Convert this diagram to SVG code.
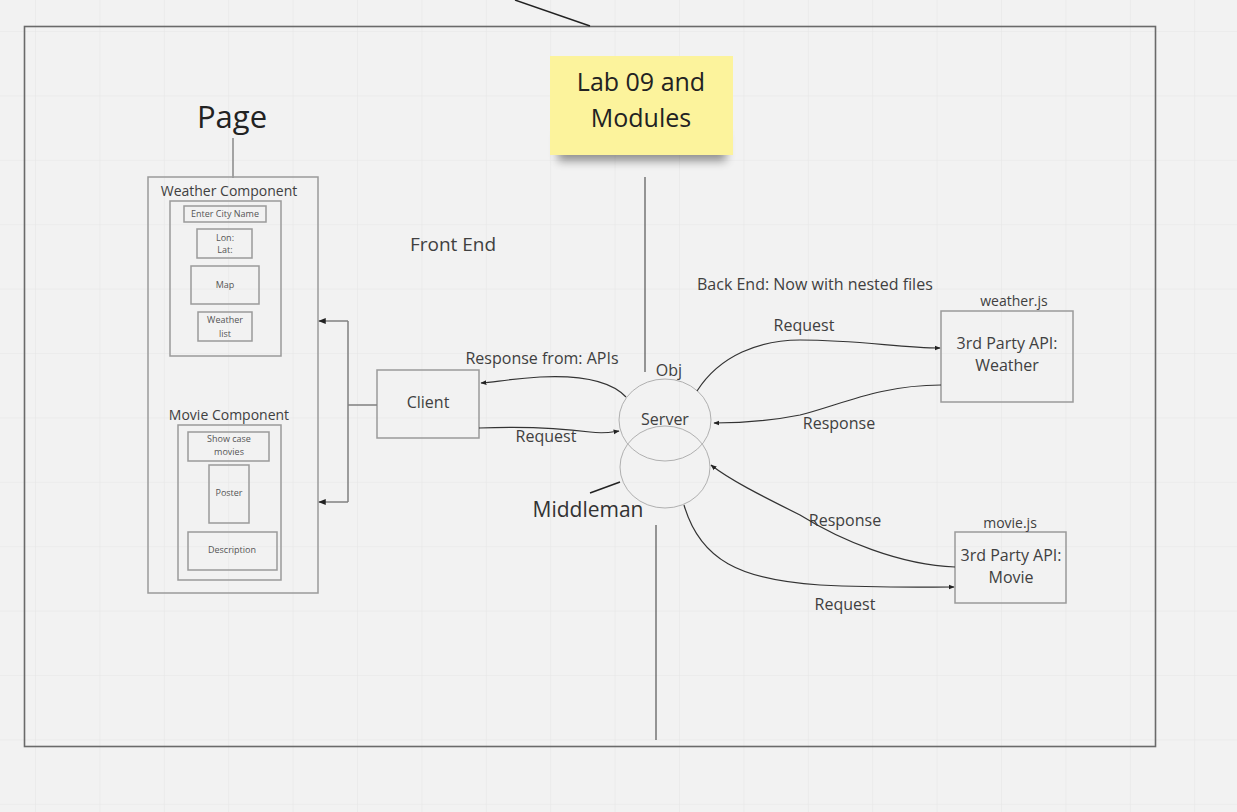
<svg xmlns="http://www.w3.org/2000/svg" width="1237" height="812" viewBox="0 0 1237 812">
<style>
text{font-family:"Open Sans","Noto Sans","Liberation Sans",sans-serif;fill:#404040}
.box{fill:none;stroke:#9a9a9a;stroke-width:1.5}
.sm{font-size:9px;text-anchor:middle;fill:#555}
.md{font-size:16px;text-anchor:middle}
.conn{fill:none;stroke:#333;stroke-width:1.2}
.ell{fill:none;stroke:#b0b0b0;stroke-width:1}
</style>
<defs>
<pattern id="grid" patternUnits="userSpaceOnUse" x="35" y="31" width="64.4" height="64.4">
<path d="M0,0 H64.4 M0,0 V64.4" fill="none" stroke="#e6e6e6" stroke-width="1.2"/>
</pattern>
<marker id="arr" viewBox="0 0 10 10" refX="9" refY="5" markerWidth="5" markerHeight="5" orient="auto-start-reverse">
<path d="M0,1 L10,5 L0,9 z" fill="#222"/>
</marker>
<filter id="sh" x="-20%" y="-20%" width="140%" height="160%">
<feGaussianBlur stdDeviation="5"/>
</filter>
</defs>
<rect width="1237" height="812" fill="#f2f2f2"/>
<rect width="1237" height="812" fill="url(#grid)"/>

<g id="frame">
<rect x="24.5" y="26.5" width="1131" height="720" fill="none" stroke="#6a6a6a" stroke-width="1.6"/>
<line x1="515" y1="0" x2="590" y2="26" stroke="#222" stroke-width="1.4"/>
<line x1="645" y1="177" x2="645" y2="372" stroke="#555" stroke-width="1.2"/>
<line x1="656" y1="525" x2="656" y2="740" stroke="#555" stroke-width="1.2"/>
</g>

<g id="sticky">
<rect x="558" y="133" width="168" height="28" fill="#000" opacity="0.4" filter="url(#sh)"/>
<rect x="550" y="56" width="183" height="99" fill="#fcf39c"/>
<text x="641" y="91" font-size="25" text-anchor="middle" style="fill:#222">Lab 09 and</text>
<text x="641" y="127" font-size="25" text-anchor="middle" style="fill:#222">Modules</text>
</g>

<g id="page">
<text x="232" y="128" font-size="31" text-anchor="middle" style="fill:#222">Page</text>
<line x1="233" y1="138" x2="233" y2="178" stroke="#888" stroke-width="1.5"/>
<rect class="box" x="148" y="177" width="170" height="416"/>
</g>

<g id="weather-component">
<text x="229" y="196" font-size="14" text-anchor="middle">Weather Component</text>
<rect class="box" x="170" y="201" width="111" height="155"/>
<rect class="box" x="184" y="206" width="82" height="16"/>
<text class="sm" x="225" y="217">Enter City Name</text>
<rect class="box" x="197" y="229" width="55" height="29"/>
<text class="sm" x="225" y="241">Lon:</text>
<text class="sm" x="225" y="253">Lat:</text>
<rect class="box" x="191" y="266" width="68" height="38"/>
<text class="sm" x="225" y="288">Map</text>
<rect class="box" x="198" y="312" width="54" height="29"/>
<text class="sm" x="225" y="323">Weather</text>
<text class="sm" x="225" y="337">list</text>
</g>

<g id="movie-component">
<text x="229" y="420" font-size="14" text-anchor="middle">Movie Component</text>
<rect class="box" x="178" y="425" width="103" height="155"/>
<rect class="box" x="188" y="432" width="81" height="29"/>
<text class="sm" x="229" y="442">Show case</text>
<text class="sm" x="229" y="455">movies</text>
<rect class="box" x="209" y="465" width="40" height="58"/>
<text class="sm" x="229" y="496">Poster</text>
<rect class="box" x="188" y="532" width="89" height="38"/>
<text class="sm" x="232" y="553">Description</text>
</g>

<g id="client">
<rect class="box" x="377" y="370" width="102" height="68"/>
<text class="md" x="428" y="408">Client</text>
</g>

<g id="server">
<ellipse class="ell" cx="665" cy="420" rx="46" ry="41"/>
<ellipse class="ell" cx="665" cy="467" rx="45" ry="41"/>
<text class="md" x="665" y="425">Server</text>
<text class="md" x="669" y="376">Obj</text>
<text x="588" y="517" font-size="21" text-anchor="middle" style="fill:#333">Middleman</text>
<line x1="590" y1="493" x2="620" y2="482" stroke="#222" stroke-width="1.5"/>
</g>

<g id="weather-api">
<rect class="box" x="941" y="311" width="132" height="91"/>
<text class="md" x="1007" y="349">3rd Party API:</text>
<text class="md" x="1007" y="371">Weather</text>
<text x="1014" y="306" font-size="14" text-anchor="middle">weather.js</text>
</g>

<g id="movie-api">
<rect class="box" x="955" y="532" width="111" height="71"/>
<text class="md" x="1011" y="561">3rd Party API:</text>
<text class="md" x="1011" y="583">Movie</text>
<text x="1010" y="528" font-size="14" text-anchor="middle">movie.js</text>
</g>

<g id="labels">
<text x="453" y="251" font-size="19" text-anchor="middle">Front End</text>
<text x="697" y="290" font-size="16">Back End: Now with nested files</text>
<text class="md" x="542" y="364">Response from: APIs</text>
<text class="md" x="546" y="442">Request</text>
<text class="md" x="804" y="331">Request</text>
<text class="md" x="839" y="429">Response</text>
<text class="md" x="845" y="526">Response</text>
<text class="md" x="845" y="610">Request</text>
</g>

<g id="connectors">
<path class="conn" d="M377,405 H348 M348,321 V502" style="stroke:#808080;stroke-width:1.5"/>
<path class="conn" d="M348,321 H319" style="stroke:#808080;stroke-width:1.5" marker-end="url(#arr)"/>
<path class="conn" d="M348,502 H319" style="stroke:#808080;stroke-width:1.5" marker-end="url(#arr)"/>
<path class="conn" d="M626,397 C610,380 580,375 540,377 C510,379 495,382 481,383" marker-end="url(#arr)"/>
<path class="conn" d="M479,428 C530,426 560,428 590,432 C605,434 612,432 619,431" marker-end="url(#arr)"/>
<path class="conn" d="M697,391 C720,355 760,340 800,340 C860,340 900,348 940,348" marker-end="url(#arr)"/>
<path class="conn" d="M941,385 C880,385 840,405 800,415 C760,423 730,423 714,423" marker-end="url(#arr)"/>
<path class="conn" d="M955,567 C900,565 840,540 800,515 C760,495 730,480 711,465" marker-end="url(#arr)"/>
<path class="conn" d="M684,505 C700,560 740,580 820,585 C880,588 920,587 954,587" marker-end="url(#arr)"/>
</g>
</svg>
